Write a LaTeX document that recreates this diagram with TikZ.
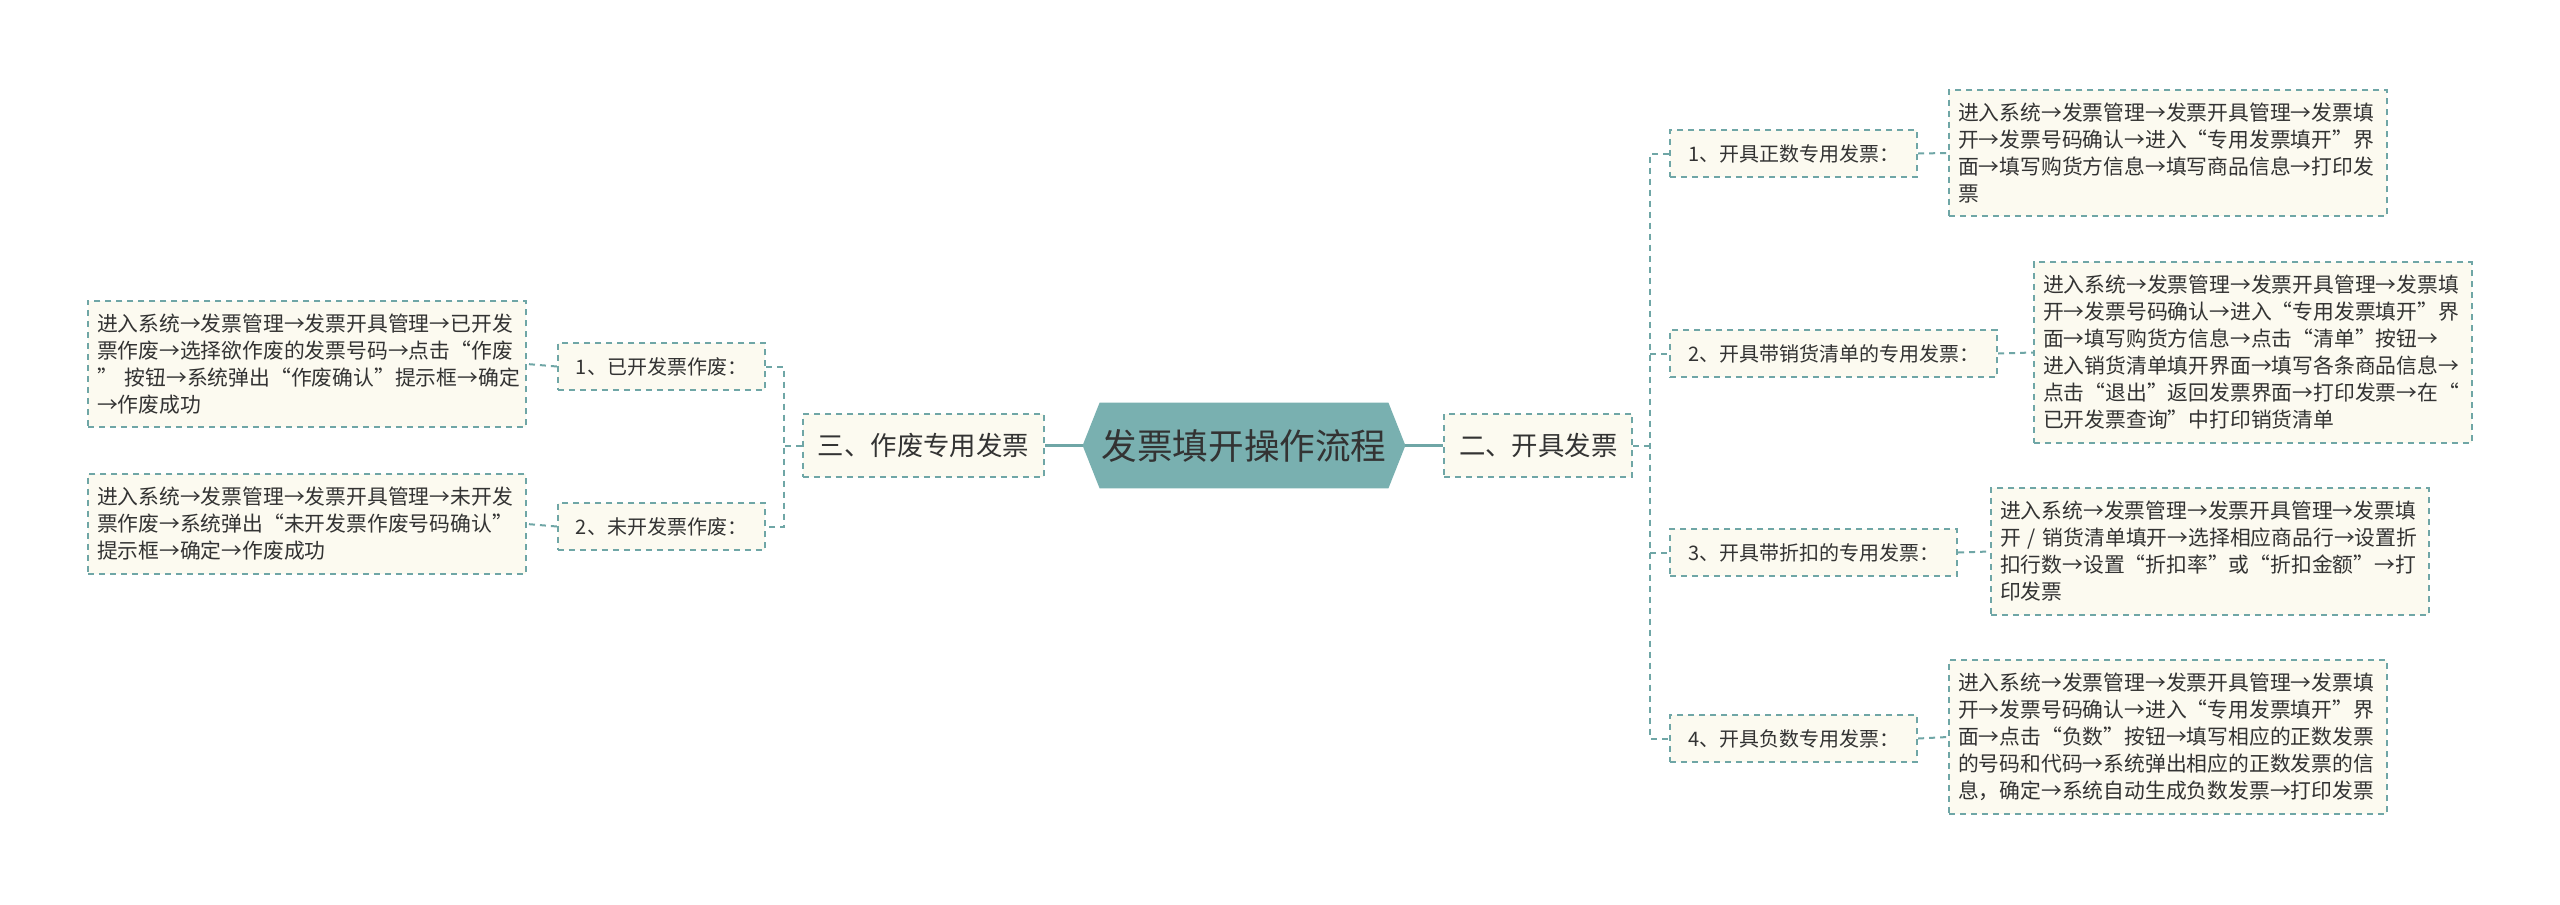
\documentclass[tikz,border=0pt]{standalone}
\usepackage{fontspec}
\setmainfont{Noto Sans CJK SC}
\usetikzlibrary{calc,positioning}
\pgfdeclarelayer{background}
\pgfsetlayers{background,main}
\definecolor{lineC}{HTML}{6FA6A6}
\definecolor{hexC}{HTML}{79B0B0}
\definecolor{boxC}{HTML}{FCFAF0}
\definecolor{txtC}{HTML}{333333}
\begin{document}
\begin{tikzpicture}[x=0.5pt,y=-0.5pt,
  dashbox/.style={draw=lineC, line width=1pt, dash pattern=on 3pt off 2.5pt, fill=boxC, text=txtC, inner sep=0pt},
  rootbox/.style={text=txtC, inner sep=0pt, minimum width=144pt, minimum height=42.5pt, font=\fontsize{17.8}{20}\selectfont},
  lvlone/.style={dashbox, font=\fontsize{13.2}{16}\selectfont, minimum height=31.5pt, inner xsep=7.5pt},
  lbl/.style={dashbox, font=\fontsize{10}{13}\selectfont, minimum height=23.5pt, inner xsep=9pt},
  detail/.style={dashbox, font=\fontsize{10.4}{13.5}\selectfont, align=left, inner xsep=4.5pt, inner ysep=6.5pt, text width=210pt},
  conn/.style={draw=lineC, line width=1pt, dash pattern=on 3pt off 2.5pt},
  solidconn/.style={draw=lineC, line width=1.4pt},
]
\useasboundingbox (0,0) rectangle (2560,905);

\node[rootbox] (root) at (1244,445.5) {发票填开操作流程};
\coordinate (rootR) at ($(root.east)+(17,0)$);
\coordinate (rootL) at ($(root.west)+(-17,0)$);
\begin{pgfonlayer}{background}
\fill[white] (0,0) rectangle (2560,905);
\fill[hexC] (root.north west) -- (root.north east) -- (rootR) -- (root.south east) -- (root.south west) -- (rootL) -- cycle;
\end{pgfonlayer}

\node[lvlone, anchor=west] (two) at (1443,445.5) {二、开具发票};
\node[lvlone, anchor=east] (three) at (1045,445.5) {三、作废专用发票};

% right branch
\node[lbl, anchor=west] (r1) at (1669,153.5) {1、开具正数专用发票：};
\node[lbl, anchor=west] (r2) at (1669,353.5) {2、开具带销货清单的专用发票：};
\node[lbl, anchor=west] (r3) at (1669,552.5) {3、开具带折扣的专用发票：};
\node[lbl, anchor=west] (r4) at (1669,738.5) {4、开具负数专用发票：};

\node[detail, anchor=west] (d1) at (1948,153) {进入系统→发票管理→发票开具管理→发票填\\开→发票号码确认→进入“专用发票填开”界\\面→填写购货方信息→填写商品信息→打印发\\票};
\node[detail, anchor=west] (d2) at (2033,352.5) {进入系统→发票管理→发票开具管理→发票填\\开→发票号码确认→进入“专用发票填开”界\\面→填写购货方信息→点击“清单”按钮→\\进入销货清单填开界面→填写各条商品信息→\\点击“退出”返回发票界面→打印发票→在“\\已开发票查询”中打印销货清单};
\node[detail, anchor=west] (d3) at (1990,551.5) {进入系统→发票管理→发票开具管理→发票填\\\mbox{开~/~销货清单填开→选择相应商品行→设置折}\\扣行数→设置“折扣率”或“折扣金额”→打\\印发票};
\node[detail, anchor=west] (d4) at (1948,737) {进入系统→发票管理→发票开具管理→发票填\\开→发票号码确认→进入“专用发票填开”界\\面→点击“负数”按钮→填写相应的正数发票\\的号码和代码→系统弹出相应的正数发票的信\\息，确定→系统自动生成负数发票→打印发票};

% left branch
\node[lbl, anchor=east] (l1) at (766,366.5) {1、已开发票作废：};
\node[lbl, anchor=east] (l2) at (766,526.5) {2、未开发票作废：};
\node[detail, anchor=east] (e1) at (527,364) {进入系统→发票管理→发票开具管理→已开发\\票作废→选择欲作废的发票号码→点击“作废\\\mbox{”~按钮→系统弹出“作废确认”提示框→确定}\\→作废成功};
\node[detail, anchor=east] (e2) at (527,524) {进入系统→发票管理→发票开具管理→未开发\\票作废→系统弹出“未开发票作废号码确认”\\提示框→确定→作废成功};

% connectors
\draw[solidconn] (rootR) -- (two.west);
\draw[solidconn] (rootL) -- (three.east);

\coordinate (rs) at (1650,445.5);
\draw[conn] (two.east) -- (rs);
\draw[conn] (r1.west) -| (rs) |- (r4.west);
\draw[conn] (rs |- r2.west) -- (r2.west);
\draw[conn] (rs |- r3.west) -- (r3.west);
\draw[conn] (r1.east) -- (d1.west);
\draw[conn] (r2.east) -- (d2.west);
\draw[conn] (r3.east) -- (d3.west);
\draw[conn] (r4.east) -- (d4.west);

\coordinate (ls) at (784,445.5);
\draw[conn] (three.west) -- (ls);
\draw[conn] (l1.east) -| (ls) |- (l2.east);
\draw[conn] (l1.west) -- (e1.east);
\draw[conn] (l2.west) -- (e2.east);
\end{tikzpicture}
\end{document}
